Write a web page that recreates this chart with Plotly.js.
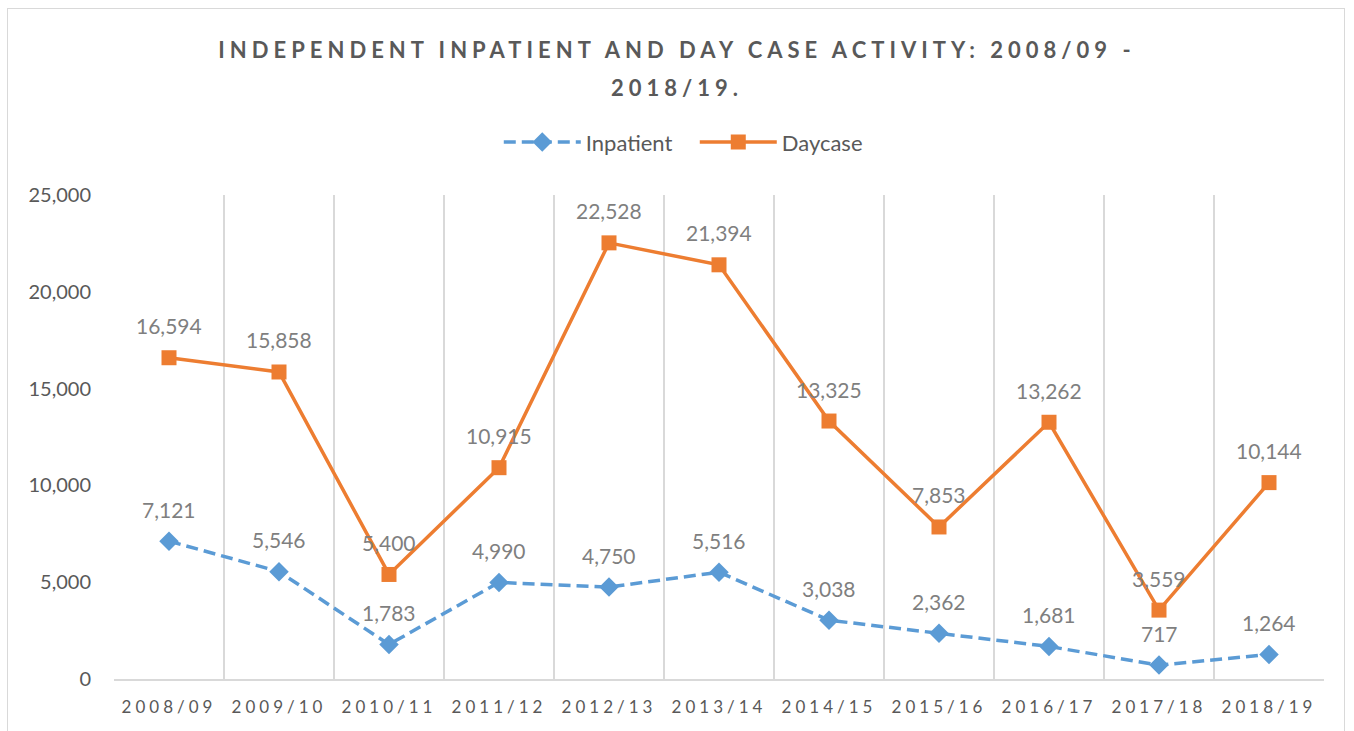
<!DOCTYPE html>
<html>
<head>
<meta charset="utf-8">
<script src="https://cdn.plot.ly/plotly-3.0.1.min.js"></script>
<style>
  html, body { margin: 0; padding: 0; background: #fff; }
  #wrap { position: relative; width: 1354px; height: 731px; overflow: hidden; }
  #chart { width: 1354px; height: 731px; }
  #frame { position: absolute; left: 7px; top: 8px; width: 1336px; height: 760px;
           border: 1px solid #d9d9d9; pointer-events: none; }
  .gtitle { letter-spacing: 5px; }
  .xtick text { letter-spacing: 4px; }
</style>
</head>
<body>
<div id="wrap">
  <div id="chart"></div>
  <div id="frame"></div>
</div>
<script>
const categories = ["2008/09","2009/10","2010/11","2011/12","2012/13","2013/14","2014/15","2015/16","2016/17","2017/18","2018/19"];
const inpatient = [7121, 5546, 1783, 4990, 4750, 5516, 3038, 2362, 1681, 717, 1264];
const daycase = [16594, 15858, 5400, 10915, 22528, 21394, 13325, 7853, 13262, 3559, 10144];
const yTickVals = [0, 5000, 10000, 15000, 20000, 25000];
const titleLines = ["INDEPENDENT INPATIENT AND DAY CASE ACTIVITY: 2008/09 -", "2018/19."];

const fmt = v => v.toLocaleString('en-US');
const FONT = 'Lato, "Open Sans", sans-serif';

const traces = [
  {
    x: categories, y: inpatient, name: 'Inpatient', type: 'scatter', mode: 'lines+markers',
    line: {color: '#5B9BD5', width: 3.5, dash: '12px,6px'},
    marker: {symbol: 'diamond', size: 15, color: '#5B9BD5'}
  },
  {
    x: categories, y: daycase, name: 'Daycase', type: 'scatter', mode: 'lines+markers',
    line: {color: '#ED7D31', width: 3.5},
    marker: {symbol: 'square', size: 15, color: '#ED7D31'}
  }
];

const annotations = [];
[inpatient, daycase].forEach(series => {
  series.forEach((v, i) => {
    annotations.push({
      x: categories[i], y: v, xref: 'x', yref: 'y', text: fmt(v),
      showarrow: false, yshift: 32,
      font: {family: FONT, size: 21, color: '#7f7f7f'}
    });
  });
});

const layout = {
  width: 1354, height: 731,
  margin: {l: 114, r: 30, t: 195, b: 52},
  paper_bgcolor: '#ffffff', plot_bgcolor: '#ffffff',
  font: {family: FONT, color: '#595959'},
  title: {
    text: titleLines.map(t => '<span style="font-size:22px"><b>' + t + '</b></span>').join('<br>'),
    font: {family: FONT, size: 29, color: '#595959'},
    x: 0.5, xanchor: 'center', xref: 'container', y: 0.9205, yanchor: 'top'
  },
  showlegend: true,
  legend: {
    orientation: 'h', x: 0.318, xanchor: 'left', y: 1.109, yanchor: 'middle',
    font: {family: FONT, size: 22, color: '#595959'},
    itemwidth: 77, entrywidth: 104, entrywidthmode: 'pixels'
  },
  xaxis: {
    type: 'category', range: [-0.5, 10.5], tickson: 'boundaries',
    showgrid: true, gridcolor: '#d9d9d9', gridwidth: 1.5,
    showline: true, linecolor: '#d9d9d9', linewidth: 1.5,
    ticks: '', tickfont: {family: FONT, size: 17, color: '#595959'},
    ticklabelstandoff: 12,
    fixedrange: true
  },
  yaxis: {
    range: [0, 25000], tickvals: yTickVals, ticktext: yTickVals.map(fmt),
    showgrid: false, zeroline: false, showline: false, ticks: '',
    tickfont: {family: FONT, size: 20, color: '#595959'}, ticklabelstandoff: 22,
    fixedrange: true
  },
  annotations: annotations
};

Plotly.newPlot('chart', traces, layout, {displayModeBar: false, staticPlot: true});
</script>
</body>
</html>
